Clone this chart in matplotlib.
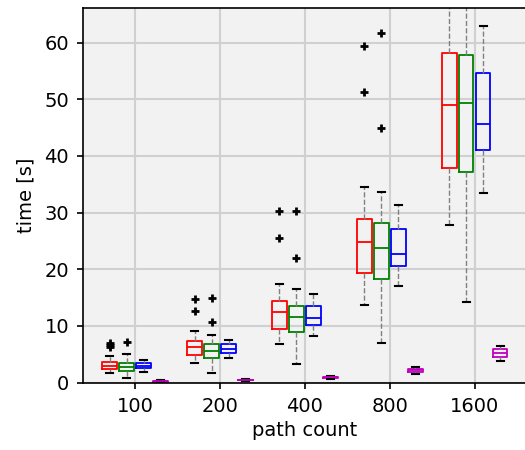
import matplotlib
matplotlib.use("Agg")
import matplotlib.pyplot as plt

# path counts (x groups)
path_counts = ["100", "200", "400", "800", "1600"]

# box statistics per series, one entry per path count
red_whislo = [1.66, 3.53, 6.88, 13.76, 27.77]
red_q1 = [2.36, 4.83, 9.42, 19.41, 37.94]
red_med = [3.0, 6.25, 12.53, 24.88, 48.95]
red_q3 = [3.6, 7.3, 14.47, 28.94, 58.12]
red_whishi = [4.71, 9.18, 17.47, 34.59, 72.0]
red_fliers = [[7.06, 6.65, 6.24], [14.7, 12.65], [30.35, 25.6], [59.47, 51.24], []]

green_whislo = [0.88, 1.66, 3.35, 7.0, 14.19]
green_q1 = [2.12, 4.3, 8.89, 18.25, 37.18]
green_med = [2.83, 5.6, 11.59, 23.72, 49.3]
green_q3 = [3.47, 6.78, 13.48, 28.23, 57.83]
green_whishi = [5.0, 8.47, 16.53, 33.65, 75.0]
green_fliers = [[7.13], [14.95, 10.77], [30.35, 22.06], [61.65, 44.89], []]

blue_whislo = [1.94, 4.36, 8.3, 17.12, 33.47]
blue_q1 = [2.6, 5.3, 10.13, 20.54, 41.0]
blue_med = [3.0, 5.95, 11.36, 22.76, 45.6]
blue_q3 = [3.42, 6.83, 13.48, 27.18, 54.65]
blue_whishi = [4.06, 7.59, 15.65, 31.41, 63.0]
blue_fliers = [[], [], [], [], []]

mag_whislo = [0.1, 0.3, 0.7, 1.59, 3.88]
mag_q1 = [0.2, 0.4, 0.88, 1.89, 4.48]
mag_med = [0.25, 0.45, 0.95, 2.2, 5.19]
mag_q3 = [0.3, 0.5, 1.02, 2.47, 5.89]
mag_whishi = [0.4, 0.65, 1.18, 2.82, 6.48]
mag_fliers = [[], [], [], [], []]

series = [
    ("red", red_whislo, red_q1, red_med, red_q3, red_whishi, red_fliers),
    ("green", green_whislo, green_q1, green_med, green_q3, green_whishi, green_fliers),
    ("blue", blue_whislo, blue_q1, blue_med, blue_q3, blue_whishi, blue_fliers),
    ("m", mag_whislo, mag_q1, mag_med, mag_q3, mag_whishi, mag_fliers),
]

fig = plt.figure(figsize=(5.25, 4.5), dpi=100)
ax = fig.add_axes([0.158, 0.1496, 0.845, 0.8326])
ax.set_facecolor("#f2f2f2")
ax.grid(True, color="#d0d0d0", linewidth=1.5)
ax.set_axisbelow(True)

group_gap = 5
offsets = [-1.5, -0.5, 0.5, 1.5]

for k, (color, lo, q1, med, q3, hi, fl) in enumerate(series):
    stats = []
    for i in range(len(path_counts)):
        stats.append({"whislo": lo[i], "q1": q1[i], "med": med[i],
                      "q3": q3[i], "whishi": hi[i], "fliers": fl[i]})
    pos = [i * group_gap + offsets[k] for i in range(len(path_counts))]
    ax.bxp(stats, positions=pos, widths=0.85, showfliers=True,
           boxprops=dict(color=color, linewidth=1.3),
           medianprops=dict(color=color, linewidth=1.3),
           whiskerprops=dict(color="gray", linestyle="--", linewidth=1),
           capprops=dict(color="black", linewidth=1.5),
           flierprops=dict(marker="+", markeredgecolor="black",
                           markersize=6, markeredgewidth=2))

ax.set_xticks([i * group_gap for i in range(len(path_counts))])
ax.set_xticklabels(path_counts)
ax.set_xlim(-3.07, 23.05)
ax.set_ylim(0, 66.1)
ax.set_yticks([0, 10, 20, 30, 40, 50, 60])
ax.tick_params(labelsize=14, length=4.5, width=1.2, pad=5.5)
for s in ax.spines.values():
    s.set_linewidth(1.2)
ax.set_xlabel("path count", fontsize=14, labelpad=4)
ax.set_ylabel("time [s]", fontsize=14, labelpad=6)

fig.savefig("out.png", dpi=100)
